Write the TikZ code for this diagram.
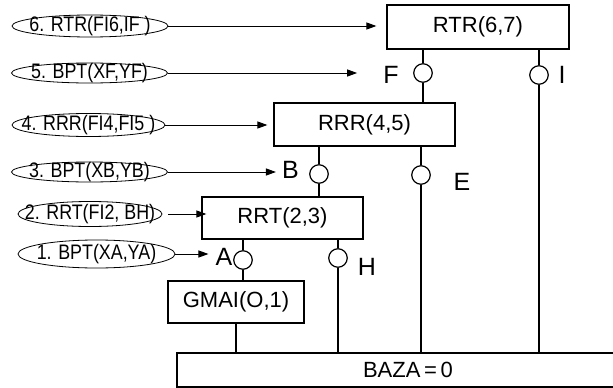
\documentclass[tikz,border=0pt]{standalone}
\usepackage{fontspec}
\setmainfont{Liberation Sans}
\newfontfamily\callfont{Liberation Sans}[FakeStretch=0.85]
\usepackage{tikz}
\usetikzlibrary{arrows.meta, positioning, shapes.geometric}

\begin{document}
\begin{tikzpicture}[
        x=1pt, y=-1pt, % pixel grid, y-axis downwards
        every node/.style={inner sep=0pt},
        proc/.style={draw, rectangle, line width=1.2pt, font=\fontsize{22}{26}\selectfont},
        call/.style={draw, ellipse, line width=0.8pt, minimum width=156pt},
        calltext/.style={font=\callfont\fontsize{21}{25}\selectfont},
        port/.style={draw, circle, line width=1.2pt, fill=white, minimum size=18.5pt},
        tag/.style={font=\fontsize{25}{30}\selectfont},
        wire/.style={line width=1.2pt},
        callarrow/.style={-{Triangle[length=10pt, width=7pt]}, line width=1pt}
    ]
        \useasboundingbox (0,0) rectangle (613,388);

        % Blocks
        \node[proc, minimum width=182pt, minimum height=44pt] (rtr) at (478,27) {RTR(6,7)};
        \node[proc, minimum width=181pt, minimum height=43pt] (rrr) at (364.5,124.5) {RRR(4,5)};
        \node[proc, minimum width=161pt, minimum height=42pt] (rrt) at (282.5,218) {RRT(2,3)};
        \node[proc, minimum width=136pt, minimum height=42pt] (gmai) at (236,302) {GMAI(O,1)};
        \node[proc, minimum width=462pt, minimum height=34pt] (baza) at (408,370) {BAZA\,=\,0};

        % Joints
        \node[port] (pF) at (423,73) {};
        \node[port] (pI) at (539,75) {};
        \node[port] (pB) at (319,174) {};
        \node[port] (pE) at (421,175) {};
        \node[port] (pA) at (243,260) {};
        \node[port] (pH) at (338,258) {};

        \node[tag] (lF) at (391,75) {F};
        \node[tag] (lI) at (562,75) {I};
        \node[tag] (lB) at (290.5,170) {B};
        \node[tag] (lE) at (462,182) {E};
        \node[tag] (lA) at (224,257) {A};
        \node[tag] (lH) at (367,267) {H};

        % Links between blocks
        \draw[wire] (rtr.south -| pF) -- (pF) -- (rrr.north -| pF);
        \draw[wire] (rtr.south -| pI) -- (pI) -- (baza.north -| pI);
        \draw[wire] (rrr.south -| pB) -- (pB) -- (rrt.north -| pB);
        \draw[wire] (rrr.south -| pE) -- (pE) -- (baza.north -| pE);
        \draw[wire] (rrt.south -| pA) -- (pA) -- (gmai.north -| pA);
        \draw[wire] (rrt.south -| pH) -- (pH) -- (baza.north -| pH);
        \draw[wire] (gmai.south) -- (baza.north -| gmai.south);

        % Calls
        \node[call, minimum height=22pt, label={[calltext]center:6. RTR(FI6,IF )}] (c6) at (90,26) {};
        \node[call, minimum height=20pt, label={[calltext]center:5. BPT(XF,YF)}] (c5) at (89.5,73) {};
        \node[call, minimum height=23pt, minimum width=153pt, label={[calltext]center:4. RRR(FI4,FI5 )}] (c4) at (88.5,125) {};
        \node[call, minimum height=20pt, label={[calltext]center:3. BPT(XB,YB)}] (c3) at (89.5,172) {};
        \node[call, minimum height=25pt, minimum width=144pt, label={[calltext]center:2. RRT(FI2, BH)}] (c2) at (90,214) {};
        \node[call, minimum height=28pt, minimum width=157pt, label={[calltext]center:1. BPT(XA,YA)}] (c1) at (96.5,254) {};

        \draw[callarrow, shorten >=10pt] (c6) -- (c6 -| rtr.west);
        \draw[callarrow, shorten >=26pt] (c5) -- (c5 -| lF.west);
        \draw[callarrow, shorten >=6pt] (c4) -- (c4 -| rrr.west);
        \draw[callarrow, shorten >=6pt] (c3) -- (c3 -| lB.west);
        \draw[callarrow, shorten <=6pt, shorten >=-5pt] (c2) -- (c2 -| rrt.west);
        \draw[callarrow, shorten >=7pt] (c1) -- (c1 -| lA.west);

    \end{tikzpicture}
\end{document}
